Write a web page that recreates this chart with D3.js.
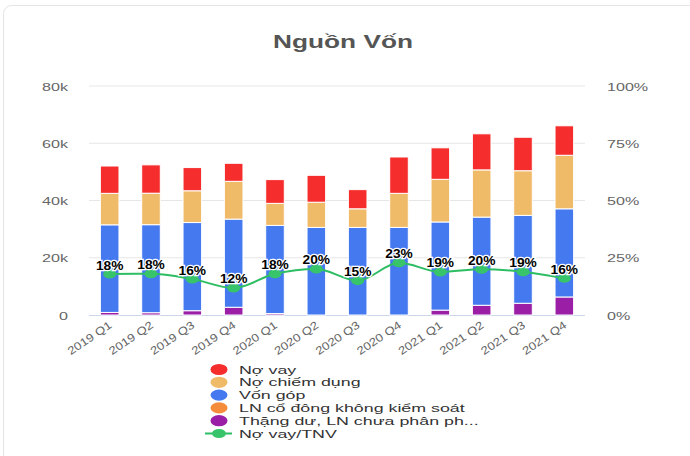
<!DOCTYPE html>
<html><head><meta charset="utf-8">
<script src="https://cdn.jsdelivr.net/npm/d3@7/dist/d3.min.js"></script>
<style>
body{margin:0;background:#fff;font-family:"Liberation Sans",Arial,sans-serif;}
</style></head>
<body><svg id="c" width="690" height="456"></svg>
<script>
const categories = ["2019 Q1","2019 Q2","2019 Q3","2019 Q4","2020 Q1","2020 Q2","2020 Q3","2020 Q4","2021 Q1","2021 Q2","2021 Q3","2021 Q4"];
const thangDu   = [0.9, 0.8, 1.5, 2.7, 0.5, 0, 0, 0, 1.7, 3.4, 4.1, 6.3];
const lnCoDong  = [0, 0, 0, 0, 0, 0, 0, 0, 0, 0, 0, 0];
const vonGop    = [30.6, 30.75, 30.8, 30.8, 30.8, 30.6, 30.6, 30.6, 30.8, 30.8, 30.7, 30.8];
const noChiemDung = [11.0, 11.0, 11.1, 13.2, 7.7, 8.8, 6.5, 11.9, 14.9, 16.5, 15.6, 18.7];
const noVay     = [9.55, 9.9, 8.1, 6.3, 8.3, 9.4, 6.7, 12.7, 11.0, 12.6, 11.7, 10.3];
const ratio     = [17.9, 18.0, 15.7, 11.8, 18.0, 20.1, 15.0, 22.8, 18.8, 20.0, 18.9, 16.0];
const leftTicks = [0, 20, 40, 60, 80];
const rightTicks = [0, 25, 50, 75, 100];
const seriesNames = ["Nợ vay","Nợ chiếm dụng","Vốn góp","LN cổ đông không kiểm soát","Thặng dư, LN chưa phân ph...","Nợ vay/TNV"];
const colors = {thangDu:"#9b1fa6", lnCoDong:"#f58c3c", vonGop:"#4579f0", noChiemDung:"#f0bb69", noVay:"#f52d2d", line:"#2dbd63"};

const FONT = "'Liberation Sans',Arial,sans-serif";
const svg = d3.select("#c");
// card border
svg.append("rect").attr("x",3.5).attr("y",5.5).attr("width",700).attr("height",470)
  .attr("rx",8).attr("fill","none").attr("stroke","#e4e4e4");

svg.append("text").attr("transform","translate(343,48) scale(1.5,1)").attr("text-anchor","middle")
  .attr("font-size",17.5).attr("font-weight","bold").attr("fill","#555")
  .attr("font-family",FONT).text("Nguồn Vốn");

const x0 = 89, x1 = 585, yTop = 86, yBot = 315;
const x = d3.scaleBand().domain(categories).range([x0,x1]).paddingInner(0.55).paddingOuter(0.275);
const y = d3.scaleLinear().domain([0,80]).range([yBot,yTop]);
const yr = d3.scaleLinear().domain([0,100]).range([yBot,yTop]);

// grid
svg.append("g").selectAll("line").data(leftTicks.slice(1)).join("line")
  .attr("x1",x0).attr("x2",x1).attr("y1",d=>y(d)).attr("y2",d=>y(d))
  .attr("stroke","#e6e6e6").attr("stroke-width",1);
svg.append("line").attr("x1",x0).attr("x2",x1).attr("y1",yBot+0.5).attr("y2",yBot+0.5)
  .attr("stroke","#ccd6eb");

// axis labels (scales drive positions)
const yAxis = d3.axisLeft(y).tickValues(leftTicks).tickSize(0).tickFormat(d=>d===0?"0":d+"k");
const gl = svg.append("g").attr("transform",`translate(68,0)`).call(yAxis);
gl.select(".domain").remove();
gl.selectAll(".tick text").attr("x",0).attr("dy","0.35em").attr("transform","scale(1.4,1)")
  .attr("font-size",11.5).attr("fill","#666").attr("font-family",FONT);
const rAxis = d3.axisRight(yr).tickValues(rightTicks).tickSize(0).tickFormat(d=>d+"%");
const gr = svg.append("g").attr("transform",`translate(607,0)`).call(rAxis);
gr.select(".domain").remove();
gr.selectAll(".tick text").attr("x",0).attr("dy","0.35em").attr("transform","scale(1.4,1)")
  .attr("font-size",11.5).attr("fill","#666").attr("font-family",FONT);

// stacked bars
const rows = categories.map((c,i)=>({cat:c, thangDu:thangDu[i], lnCoDong:lnCoDong[i], vonGop:vonGop[i], noChiemDung:noChiemDung[i], noVay:noVay[i]}));
const keys = ["thangDu","lnCoDong","vonGop","noChiemDung","noVay"];
const stack = d3.stack().keys(keys)(rows);
svg.append("g").selectAll("g").data(stack).join("g").attr("fill",d=>colors[d.key])
  .selectAll("rect").data(d=>d.filter(p=>p[1]-p[0]>0)).join("rect")
  .attr("x",d=>x(d.data.cat)).attr("width",x.bandwidth())
  .attr("y",d=>y(d[1])).attr("height",d=>y(d[0])-y(d[1]))
  .attr("stroke","#fff").attr("stroke-width",1);

// line
const cx = c => x(c)+x.bandwidth()/2;
const line = d3.line().x((d,i)=>cx(categories[i])).y(d=>yr(d)).curve(d3.curveMonotoneX);
svg.append("path").datum(ratio).attr("d",line).attr("fill","none")
  .attr("stroke",colors.line).attr("stroke-width",2);
svg.append("g").selectAll("ellipse").data(ratio).join("ellipse")
  .attr("cx",(d,i)=>cx(categories[i])).attr("cy",d=>yr(d)).attr("rx",6.5).attr("ry",4.5)
  .attr("fill","#38c46b");
svg.append("g").selectAll("text").data(ratio).join("text")
  .attr("transform",(d,i)=>`translate(${cx(categories[i])},${yr(d)-4.5}) scale(1.1,1)`)
  .attr("text-anchor","middle")
  .attr("font-size",12.5).attr("font-weight","bold").attr("fill","#000")
  .attr("stroke","#fff").attr("stroke-width",2.5).attr("paint-order","stroke")
  .attr("font-family",FONT)
  .text(d=>Math.round(d)+"%");

// x labels
svg.append("g").selectAll("text").data(categories).join("text")
  .attr("transform",d=>`translate(${cx(d)+3},${yBot+12}) rotate(-34) scale(1.2,1)`)
  .attr("text-anchor","end").attr("font-size",11).attr("fill","#666")
  .attr("font-family",FONT).text(d=>d);

// legend
const legColors = [colors.noVay, colors.noChiemDung, colors.vonGop, colors.lnCoDong, colors.thangDu];
const lg = svg.append("g");
seriesNames.forEach((n,i)=>{
  const yy = 369.5 + i*12.8;
  if(i<5){
    lg.append("ellipse").attr("cx",219).attr("cy",yy).attr("rx",8.5).attr("ry",5.6).attr("fill",legColors[i]);
  } else {
    lg.append("line").attr("x1",205).attr("x2",232).attr("y1",yy).attr("y2",yy).attr("stroke",colors.line).attr("stroke-width",2);
    lg.append("ellipse").attr("cx",219).attr("cy",yy).attr("rx",7).attr("ry",4.5).attr("fill","#38c46b");
  }
  lg.append("text").attr("transform",`translate(239,${yy}) scale(1.55,1)`).attr("dy","0.35em").attr("font-size",11.5)
    .attr("fill","#333").attr("font-family",FONT).text(n);
});
</script></body></html>
